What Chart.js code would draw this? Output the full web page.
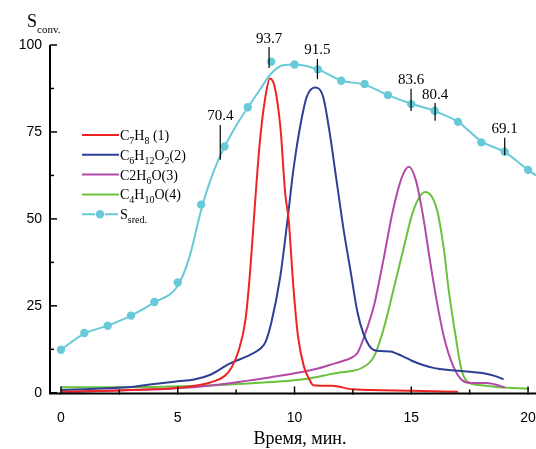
<!DOCTYPE html>
<html>
<head>
<meta charset="utf-8">
<script src="https://cdn.jsdelivr.net/npm/chart.js@4/dist/chart.umd.min.js"></script>
<style>
  html, body { margin: 0; padding: 0; background: #fff; }
  #chart { display: block; }
</style>
</head>
<body>
<canvas id="chart" width="536" height="449"></canvas>
<script>
// Axis ticks
const xTicks = [0, 5, 10, 15, 20];
const yTicks = [0, 25, 50, 75, 100];

// C7H8 (1)
const redX = [0, 2, 4, 5, 6, 6.5, 7, 7.3, 7.6, 7.9, 8.1, 8.25, 8.5, 8.75, 8.95, 9.15, 9.4, 9.6, 9.75, 9.95, 10.15, 10.4, 10.65, 10.8, 11.6, 12.5, 15, 17];
const redY = [0.3, 0.6, 1.0, 1.4, 2.3, 3.2, 4.8, 7.2, 12, 21, 35, 49, 71, 85, 90.4, 88, 76, 57.4, 49.7, 30.6, 16.2, 7.6, 3.7, 2.2, 2.0, 1.0, 0.6, 0.3];

// C6H12O2 (2)
const blueX = [0, 1, 2, 3, 3.8, 5, 5.7, 6.4, 7.2, 8.1, 8.5, 8.75, 9.0, 9.38, 9.67, 9.95, 10.24, 10.52, 10.88, 11.23, 11.5, 11.8, 12.1, 12.4, 12.7, 12.95, 13.2, 13.4, 13.7, 14.1, 14.6, 15, 15.5, 16, 16.5, 17.4, 18.2, 18.6, 18.95];
const blueY = [0.8, 1.0, 1.3, 1.7, 2.4, 3.3, 3.8, 5.2, 8.3, 10.9, 12.5, 14.5, 20, 33, 48, 64, 76.5, 85, 87.8, 85, 75, 61, 47, 35, 23, 17, 13.5, 12.3, 12, 11.9, 10.6, 9.3, 8.0, 7.1, 6.6, 6.1, 5.5, 4.8, 3.9];

// C2H6O (3)
const purpleX = [0, 2, 4, 6, 8, 9, 10, 11, 11.5, 12, 12.4, 12.7, 13, 13.4, 13.8, 14.2, 14.6, 14.9, 15.2, 15.5, 15.8, 16.1, 16.4, 16.8, 17.2, 17.6, 18.2, 18.8, 19];
const purpleY = [0.2, 0.6, 1.0, 1.8, 3.5, 4.5, 5.6, 7.0, 8.0, 9.0, 10.0, 11.5, 16.5, 25, 38, 52, 62, 65, 61, 51, 38, 26, 16, 7.6, 3.5, 2.8, 2.8, 2.0, 1.5];

// C4H10O (4)
const greenX = [0, 2, 4, 6, 8, 9, 10, 10.7, 11.5, 12, 12.4, 12.9, 13.4, 13.8, 14.2, 14.65, 15.1, 15.6, 16.1, 16.4, 16.6, 16.9, 17.15, 17.5, 18, 18.8, 20];
const greenY = [1.6, 1.6, 1.7, 2.0, 2.7, 3.1, 3.6, 4.2, 5.3, 5.9, 6.2, 7.2, 10.4, 18, 28.6, 41, 52.6, 57.7, 52.6, 41, 29.6, 16.2, 6.6, 2.8, 2.2, 1.6, 1.2];

// S sred. - measured points and the smoothed curve through them
const ssredX = [0, 1, 2, 3, 4, 5, 6, 7, 8, 9, 10, 11, 12, 13, 14, 15, 16, 17, 18, 19, 20];
const ssredY = [12.4, 17.2, 19.3, 22.2, 26.1, 31.7, 54.1, 70.8, 82.1, 95.2, 94.4, 93.0, 89.7, 88.8, 85.6, 83.0, 81.1, 77.9, 72.0, 69.3, 64.1];
const ssredCurveX = [0, 1, 2, 3, 4, 5, 5.5, 6, 6.5, 7, 7.5, 8, 8.5, 9, 9.5, 10, 11, 12, 13, 14, 15, 16, 17, 18, 19, 20, 20.34];
const ssredCurveY = [12.4, 17.0, 19.3, 22.2, 26.0, 30.8, 39, 52.5, 63, 70.7, 76.8, 82, 87, 91.8, 94.2, 94.4, 93.0, 89.8, 88.6, 85.6, 83.1, 81.0, 77.9, 72.3, 69.2, 64.1, 62.5];

// Value labels with marker lines
const annotX = [6.82, 8.91, 10.98, 14.99, 16.02, 19.0];
const annotText = ['70.4', '93.7', '91.5', '83.6', '80.4', '69.1'];
const annotTop = [77.0, 99.4, 96.0, 87.4, 83.3, 73.3];
const annotBottom = [67.0, 93.4, 90.2, 81.0, 78.2, 68.4];

const RED = '#ee2424';
const BLUE = '#2f3f96';
const PURPLE = '#b24aa8';
const GREEN = '#6cc13c';
const CYAN = '#68cad8';

const SERIF = '"Liberation Serif", "DejaVu Serif", serif';
const SANS = '"Liberation Sans", Arial, sans-serif';

function pts(xs, ys) {
    return xs.map((x, i) => ({ x: x, y: ys[i] }));
}

// legend entries: [text, isSubscript]
const legendItems = [
    { color: RED, marker: false, parts: [['C', 0], ['7', 1], ['H', 0], ['8', 1], [' (1)', 0]] },
    { color: BLUE, marker: false, parts: [['C', 0], ['6', 1], ['H', 0], ['12', 1], ['O', 0], ['2', 1], ['(2)', 0]] },
    { color: PURPLE, marker: false, parts: [['C2H', 0], ['6', 1], ['O(3)', 0]] },
    { color: GREEN, marker: false, parts: [['C', 0], ['4', 1], ['H', 0], ['10', 1], ['O(4)', 0]] },
    { color: CYAN, marker: true, parts: [['S', 0], ['sred.', 1]] }
];

function drawRich(ctx, parts, x, y, size, subSize, subDrop) {
    ctx.textBaseline = 'alphabetic';
    ctx.textAlign = 'left';
    parts.forEach(p => {
        const sub = p[1] === 1;
        ctx.font = (sub ? subSize : size) + 'px ' + SERIF;
        ctx.fillText(p[0], x, sub ? y + subDrop : y);
        x += ctx.measureText(p[0]).width;
    });
}

const decorations = {
    id: 'decorations',
    afterDraw(chart) {
        const ctx = chart.ctx;
        const xs = chart.scales.x;
        const ys = chart.scales.y;
        const area = chart.chartArea;
        ctx.save();
        ctx.strokeStyle = '#000';
        ctx.fillStyle = '#000';

        // axis lines
        ctx.lineWidth = 2;
        ctx.beginPath();
        ctx.moveTo(area.left, area.top);
        ctx.lineTo(area.left, area.bottom);
        ctx.lineTo(area.right, area.bottom);
        ctx.stroke();

        // y ticks (inward)
        ctx.lineWidth = 1.5;
        for (let v = 0; v <= 100; v += 12.5) {
            const py = ys.getPixelForValue(v);
            const len = v % 25 === 0 ? 7 : 4;
            ctx.beginPath();
            ctx.moveTo(area.left, py);
            ctx.lineTo(area.left + len, py);
            ctx.stroke();
        }
        // x ticks (inward)
        for (let v = 0; v <= 20; v += 2.5) {
            const px = xs.getPixelForValue(v);
            const len = v % 5 === 0 ? 7 : 4;
            ctx.beginPath();
            ctx.moveTo(px, area.bottom + 1);
            ctx.lineTo(px, area.bottom - len);
            ctx.stroke();
        }

        // tick labels
        ctx.font = '14px ' + SANS;
        ctx.textAlign = 'right';
        ctx.textBaseline = 'middle';
        yTicks.forEach(v => ctx.fillText(String(v), 42, ys.getPixelForValue(v)));
        ctx.textAlign = 'center';
        xTicks.forEach(v => ctx.fillText(String(v), xs.getPixelForValue(v), 418));

        // axis titles
        ctx.textAlign = 'center';
        ctx.textBaseline = 'alphabetic';
        ctx.font = '18px ' + SERIF;
        ctx.fillText('Время, мин.', 300, 444);
        drawRich(ctx, [['S', 0], ['conv.', 1]], 27, 27, 18, 11, 6);

        // value labels with marker lines
        ctx.lineWidth = 1.2;
        annotX.forEach((ax, i) => {
            const px = xs.getPixelForValue(ax);
            const top = ys.getPixelForValue(annotTop[i]);
            const bottom = ys.getPixelForValue(annotBottom[i]);
            ctx.beginPath();
            ctx.moveTo(px, top);
            ctx.lineTo(px, bottom);
            ctx.stroke();
            ctx.font = '15px ' + SERIF;
            ctx.textAlign = 'center';
            ctx.fillText(annotText[i], px, top - 4.5);
        });

        // legend
        legendItems.forEach((item, i) => {
            const ly = 135 + i * 19.8;
            ctx.strokeStyle = item.color;
            ctx.lineWidth = 2;
            ctx.beginPath();
            if (item.marker) {
                ctx.moveTo(82, ly); ctx.lineTo(95, ly);
                ctx.moveTo(105, ly); ctx.lineTo(118, ly);
            } else {
                ctx.moveTo(82, ly); ctx.lineTo(119, ly);
            }
            ctx.stroke();
            if (item.marker) {
                ctx.fillStyle = item.color;
                ctx.beginPath();
                ctx.arc(100, ly, 4.2, 0, Math.PI * 2);
                ctx.fill();
            }
            ctx.fillStyle = '#000';
            drawRich(ctx, item.parts, 120, ly + 5, 14, 10, 4);
        });
        ctx.restore();
    }
};

function lineSet(data, color) {
    return {
        data: data,
        borderColor: color,
        backgroundColor: color,
        borderWidth: 2,
        pointRadius: 0,
        fill: false,
        cubicInterpolationMode: 'monotone'
    };
}

new Chart(document.getElementById('chart'), {
    type: 'line',
    data: {
        datasets: [
            lineSet(pts(ssredCurveX, ssredCurveY), CYAN),
            {
                data: pts(ssredX, ssredY),
                showLine: false,
                pointRadius: 4.2,
                pointBackgroundColor: CYAN,
                pointBorderWidth: 0,
                borderColor: CYAN
            },
            lineSet(pts(redX, redY), RED),
            lineSet(pts(blueX, blueY), BLUE),
            lineSet(pts(purpleX, purpleY), PURPLE),
            lineSet(pts(greenX, greenY), GREEN)
        ]
    },
    options: {
        responsive: false,
        animation: false,
        devicePixelRatio: 1,
        layout: { autoPadding: false, padding: { top: 45, right: 0, left: 0, bottom: 0 } },
        plugins: { legend: { display: false }, tooltip: { enabled: false } },
        scales: {
            x: {
                type: 'linear',
                min: -0.47,
                max: 20.34,
                grid: { display: false },
                border: { display: false },
                ticks: { display: false },
                afterFit: s => { s.height = 55.5; }
            },
            y: {
                min: -0.2,
                max: 100,
                grid: { display: false },
                border: { display: false },
                ticks: { display: false },
                afterFit: s => { s.width = 50; }
            }
        }
    },
    plugins: [decorations]
});
</script>
</body>
</html>
